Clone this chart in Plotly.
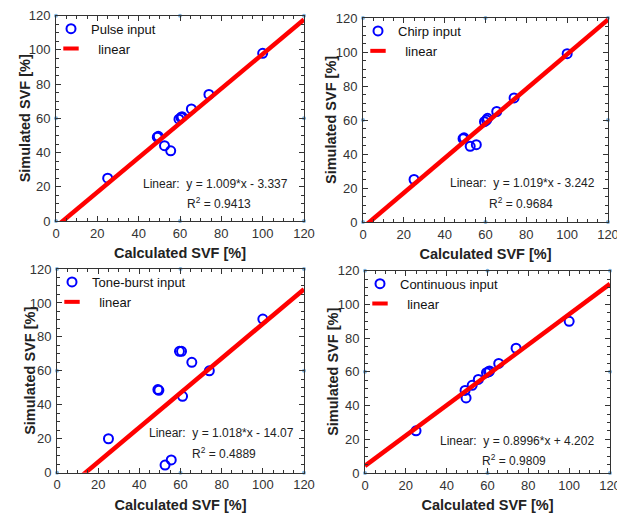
import plotly.graph_objects as go

# ---- data ----
calc_svf = [25, 49, 49.5, 52.5, 55.5, 59.5, 60.5, 61, 65.5, 74, 100]
pulse_svf = [25, 49, 49.5, 44, 41, 59.5, 60.5, 61, 65.5, 74, 98]
chirp_svf = [25, 49, 49.5, 44.5, 45.5, 59, 60, 61, 65, 73, 99]
tone_svf = [20, 49, 48.5, 4.5, 7.5, 71.5, 71.5, 45, 65, 60, 90.5]
cont_svf = [25, 49, 44.5, 52, 55.5, 59.5, 60, 60.5, 65, 74, 90]

series_names = ["Pulse input", "Chirp input", "Tone-burst input", "Continuous input"]
series_values = [pulse_svf, chirp_svf, tone_svf, cont_svf]
fit_slopes = [1.009, 1.019, 1.018, 0.8996]
fit_intercepts = [-3.337, -3.242, -14.07, 4.202]
fit_eq_text = ["y = 1.009*x - 3.337", "y = 1.019*x - 3.242",
               "y = 1.018*x - 14.07", "y = 0.8996*x + 4.202"]
fit_r2 = ["0.9413", "0.9684", "0.4889", "0.9809"]
tick_vals = [0, 20, 40, 60, 80, 100, 120]
axis_range = [0, 120]
handle_pos = [0, 60, 120]
x_title = "Calculated SVF [%]"
y_title = "Simulated SVF [%]"

# ---- layout config ----
W, H = 617, 513
panel_px = [  # x0, x1, ytop, ybottom in pixels
    (56, 304, 15.7, 221),
    (363, 608, 18, 222),
    (57, 304, 269, 472.7),
    (365, 610, 270.7, 473),
]
ytitle_px = [25, 331, 30, 333]
eq_pos = [(77, 21.5, 79, 10.5), (78, 23, 77.5, 11.2),
          (80, 23.2, 81, 11.6), (74.5, 19.2, 73, 7.7)]

FONT = "Liberation Sans, Arial, Helvetica, sans-serif"
fig = go.Figure()
layout = dict(
    width=W, height=H, margin=dict(l=0, r=0, t=0, b=0, autoexpand=False),
    paper_bgcolor="white", plot_bgcolor="white",
    font=dict(family=FONT, color="#262626", size=13),
    showlegend=True,
)
annotations = []

for i in range(4):
    x0, x1, yt, yb = panel_px[i]
    xd = [x0 / W, x1 / W]
    yd = [1 - yb / H, 1 - yt / H]
    sfx = "" if i == 0 else str(i + 1)
    xa, ya = "x" + sfx, "y" + sfx
    lg = "legend" + sfx

    # selection-handle dots on the frame
    hx, hy = [], []
    for a in handle_pos:
        for b in handle_pos:
            if a in (0, 120) or b in (0, 120):
                hx.append(a)
                hy.append(b)
    fig.add_trace(go.Scatter(x=hx, y=hy, mode="markers", xaxis=xa, yaxis=ya,
                             marker=dict(size=4, color="#7fb2dc"),
                             cliponaxis=False, showlegend=False, hoverinfo="skip"))

    fig.add_trace(go.Scatter(
        x=calc_svf, y=series_values[i], mode="markers", name=series_names[i],
        xaxis=xa, yaxis=ya, legend=lg,
        marker=dict(symbol="circle-open", size=9, color="#0000ff",
                    line=dict(width=2, color="#0000ff")),
    ))
    lx = axis_range
    ly = [fit_slopes[i] * v + fit_intercepts[i] for v in lx]
    fig.add_trace(go.Scatter(x=lx, y=ly, mode="lines", xaxis=xa, yaxis=ya,
                             line=dict(color="#ff0000", width=4.5),
                             showlegend=False, hoverinfo="skip"))
    # legend entry for the fit line
    fig.add_trace(go.Scatter(x=[None], y=[None], mode="markers",
                             name="\u00a0\u00a0linear",
                             xaxis=xa, yaxis=ya, legend=lg,
                             marker=dict(symbol="line-ew-open", size=11,
                                         color="#ff0000",
                                         line=dict(width=4, color="#ff0000"))))

    axcommon = dict(
        range=axis_range, tickvals=tick_vals, ticks="inside", ticklen=5,
        tickcolor="#333333", showline=True, linecolor="#333333", linewidth=1,
        mirror="ticks", showgrid=False, zeroline=False, automargin=False,
        ticklabeloverflow="allow",
        tickfont=dict(size=13, color="#333333", family=FONT),
        minor=dict(ticks="inside", dtick=5, ticklen=3, tickcolor="#333333",
                   showgrid=False),
    )
    layout["xaxis" + sfx] = dict(
        axcommon, domain=xd, anchor=ya,
        title=dict(text="<b>" + x_title + "</b>", standoff=8,
                   font=dict(size=14.5, color="#222222", family=FONT)),
    )
    layout["yaxis" + sfx] = dict(axcommon, domain=yd, anchor=xa, ticklabelstandoff=2)
    annotations.append(dict(
        x=ytitle_px[i] / W, xref="paper", y=0.5, yref=ya + " domain",
        text="<b>" + y_title + "</b>", textangle=-90, showarrow=False,
        xanchor="center", yanchor="middle",
        font=dict(size=14.5, color="#222222", family=FONT)))
    layout[lg] = dict(
        x=(x0 - 5) / W, y=1 - (yt - 2) / H, xanchor="left", yanchor="top",
        bgcolor="rgba(0,0,0,0)", borderwidth=0, itemwidth=30,
        font=dict(size=13, color="#111111", family=FONT), tracegroupgap=0,
    )
    ex, ey, rx, ry = eq_pos[i]
    annotations.append(dict(x=ex, y=ey, xref=xa, yref=ya, showarrow=False,
                            text="Linear:\u00a0\u00a0" + fit_eq_text[i],
                            font=dict(size=12, color="#222222", family=FONT)))
    annotations.append(dict(x=rx, y=ry, xref=xa, yref=ya, showarrow=False,
                            text="R<sup>2</sup> = " + fit_r2[i],
                            font=dict(size=12, color="#222222", family=FONT)))

layout["annotations"] = annotations
fig.update_layout(**layout)
fig.write_html("out.html")
